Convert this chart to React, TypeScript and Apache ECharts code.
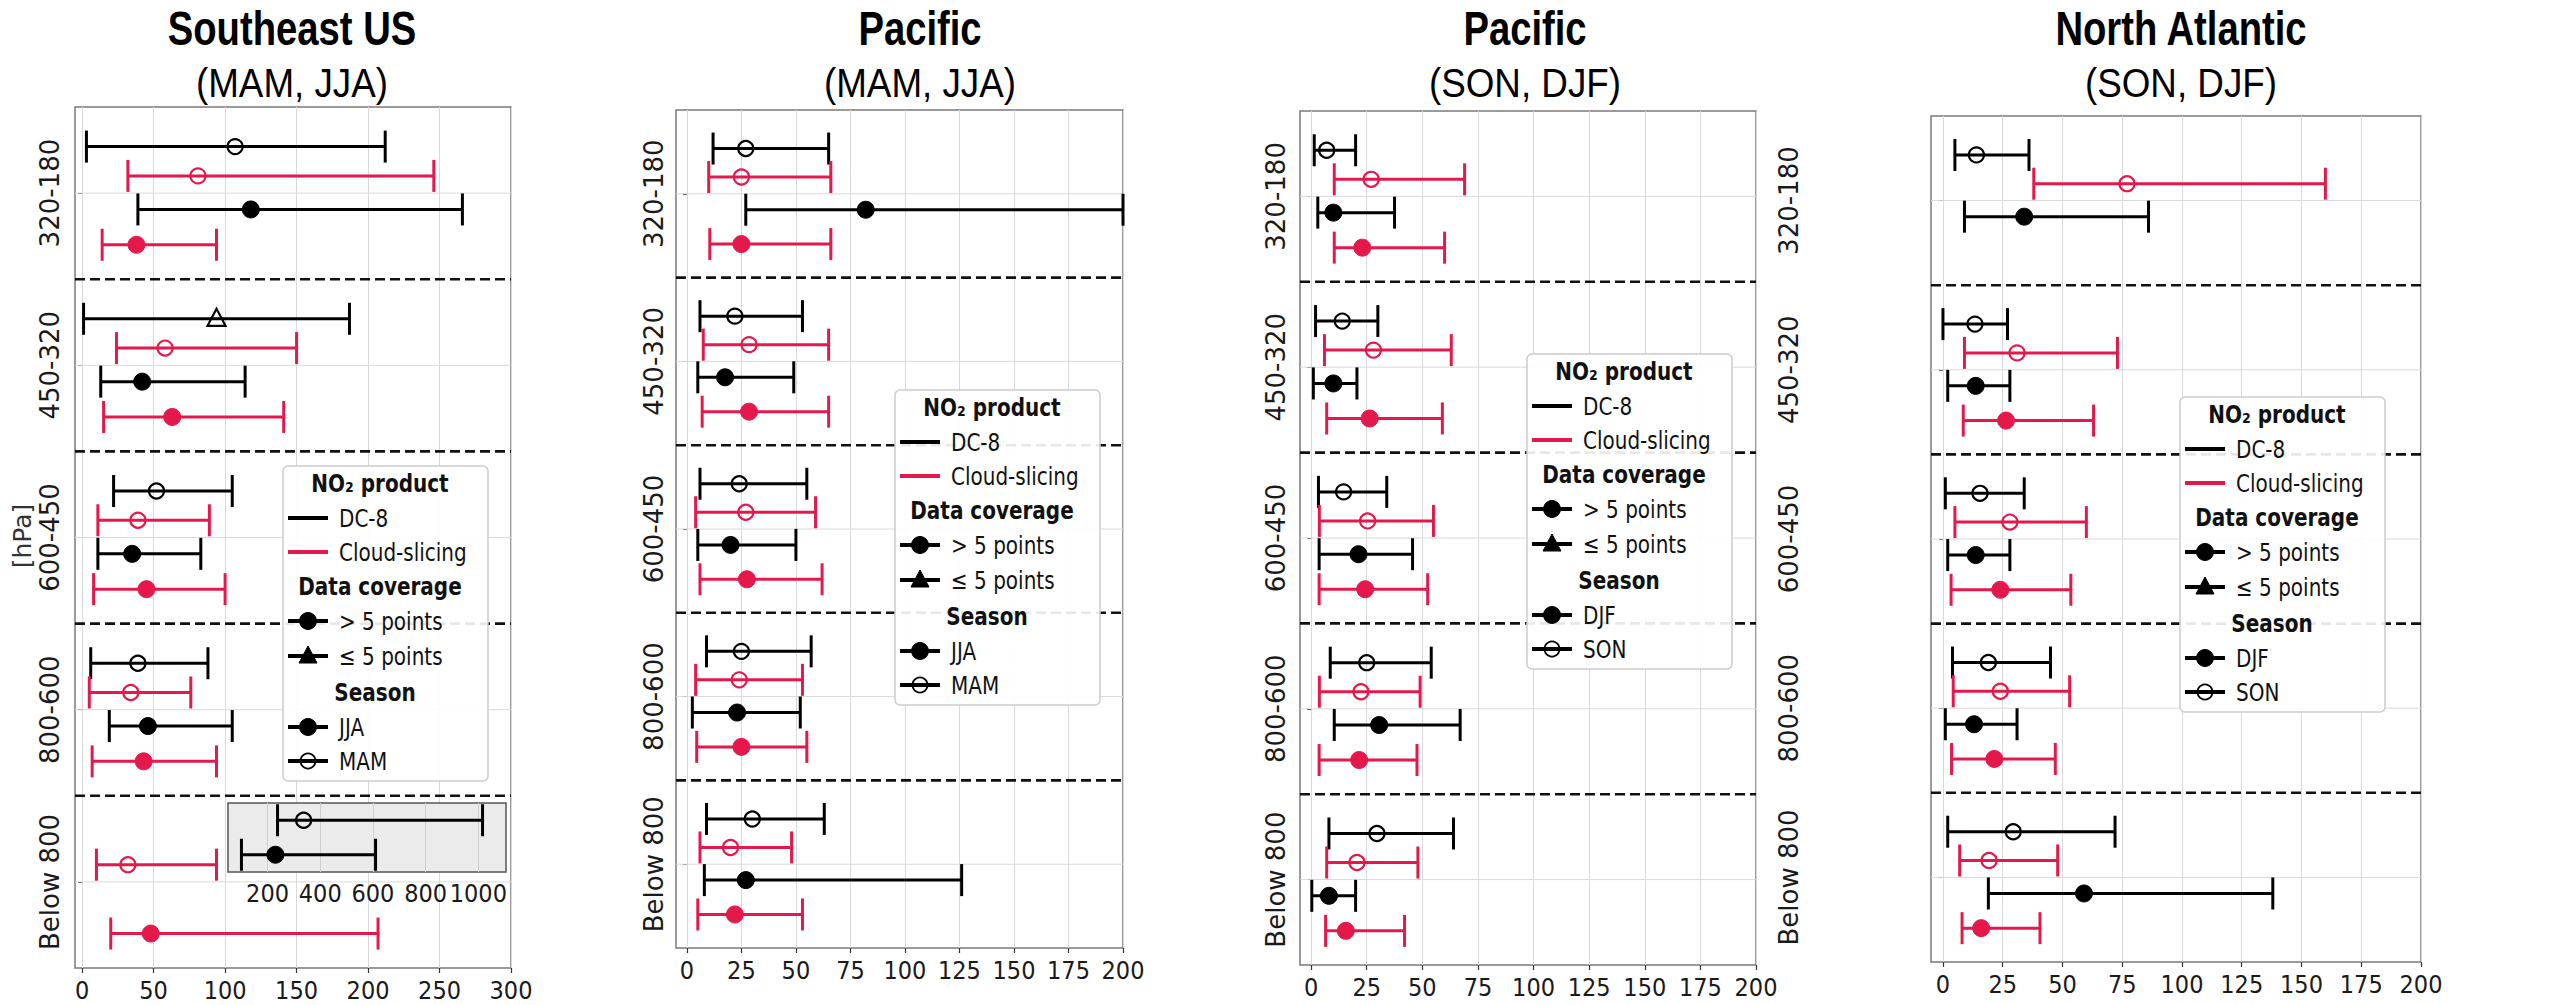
import React, { useEffect, useRef } from "react";
import * as echarts from "echarts";

// ---------------- data ----------------
const levels = ["320-180", "450-320", "600-450", "800-600", "Below 800"];
const xTicks300 = [0, 50, 100, 150, 200, 250, 300];
const xTicks200 = [0, 25, 50, 75, 100, 125, 150, 175, 200];
const insetTicks = [200, 400, 600, 800, 1000];
const insetLevels = ["MAM", "JJA"];

type R = [number, number, number] | null; // [low, mean, high]

// Southeast US (MAM, JJA)
const seDc8MAM: R[] = [[3, 107, 212], [1, 94, 187], [22, 52, 105], [6, 39, 88], null];
const seDc8MAMFew = [0, 1, 0, 0, 0]; // 1 = "<= 5 points"
const seCsMAM: R[] = [[32, 81, 246], [24, 58, 150], [11, 39, 89], [5, 34, 76], [10, 32, 94]];
const seDc8JJA: R[] = [[39, 118, 266], [13, 42, 114], [11, 35, 83], [19, 46, 105], null];
const seCsJJA: R[] = [[14, 38, 94], [15, 63, 141], [8, 45, 100], [7, 43, 94], [20, 48, 207]];
// Southeast US, Below 800, DC-8 (inset, larger scale)
const seInsetDc8MAM: R = [238, 337, 1016];
const seInsetDc8JJA: R = [101, 230, 610];

// Pacific (MAM, JJA)
const pcDc8MAM: R[] = [[12, 27, 65], [6, 22, 53], [6, 24, 55], [9, 25, 57], [9, 30, 63]];
const pcCsMAM: R[] = [[10, 25, 66], [7.5, 28.5, 65], [4, 27, 59], [4, 24, 53], [6, 20, 48]];
const pcDc8JJA: R[] = [[27, 82, 200], [5, 17.5, 49], [5, 20, 50], [2.5, 23, 52], [8, 27, 126]];
const pcCsJJA: R[] = [[10.5, 25, 66], [7, 28.5, 65], [6, 27.5, 62], [4.5, 25, 55], [5, 22, 53]];

// Pacific (SON, DJF)
const psDc8SON: R[] = [[1.4, 7, 20], [2, 14, 30], [3.3, 14.6, 34], [8.6, 25, 54], [8, 29.6, 64]];
const psCsSON: R[] = [[10.4, 27, 69], [6, 28, 63], [3.7, 25.4, 55], [3.7, 22.4, 49], [7, 20.6, 48]];
const psDc8DJF: R[] = [[3, 10, 37.5], [1, 10, 20.6], [3.6, 21.3, 45.6], [10.4, 30.6, 67], [0.3, 8, 20]];
const psCsDJF: R[] = [[10.4, 23, 60], [7, 26.3, 59], [3.6, 24.3, 52.4], [3.6, 21.6, 47.6], [6.5, 15.6, 42]];

// North Atlantic (SON, DJF)
const naDc8SON: R[] = [[5, 14, 36], [0, 13.4, 27], [1, 15.5, 34], [4, 19, 45], [2, 29.4, 72]];
const naCsSON: R[] = [[38, 77, 160], [9, 31, 73], [5, 28, 60], [4.3, 24, 53], [7, 19.3, 48]];
const naDc8DJF: R[] = [[9, 34, 86], [2, 13.7, 28], [2, 13.7, 28], [1, 13, 31], [19, 59, 138]];
const naCsDJF: R[] = [null, [8.5, 26.4, 63], [3.4, 24, 53.5], [3.6, 21.5, 47], [8, 16, 40.6]];

// ---------------- styling / layout ----------------
const RED = "#E5184C";
const BLACK = "#000000";
const ROW_OFFSETS = [-0.27, -0.1, 0.095, 0.3];
const ROW_STYLE = [
  { color: BLACK, filled: false },
  { color: RED, filled: false },
  { color: BLACK, filled: true },
  { color: RED, filled: true },
];
const TICK_FONT = '"DejaVu Sans Condensed", "DejaVu Sans", sans-serif';
const TITLE_FONT = '"Liberation Sans", Arial, Helvetica, sans-serif';

const panels = [
  {
    title: "Southeast US", sub: "(MAM, JJA)", cx: 292,
    grid: { left: 75, top: 107, width: 436, height: 861 },
    xMax: 300, ticks: xTicks300, yMargin: 12, legend: [283, 466],
    seasons: ["JJA", "MAM"], rows: [seDc8MAM, seCsMAM, seDc8JJA, seCsJJA], few: seDc8MAMFew,
  },
  {
    title: "Pacific", sub: "(MAM, JJA)", cx: 920,
    grid: { left: 676, top: 110, width: 447, height: 838 },
    xMax: 200, ticks: xTicks200, yMargin: 9, legend: [895, 390],
    seasons: ["JJA", "MAM"], rows: [pcDc8MAM, pcCsMAM, pcDc8JJA, pcCsJJA], few: null,
  },
  {
    title: "Pacific", sub: "(SON, DJF)", cx: 1525,
    grid: { left: 1300, top: 111, width: 456, height: 854 },
    xMax: 200, ticks: xTicks200, yMargin: 11, legend: [1527, 354],
    seasons: ["DJF", "SON"], rows: [psDc8SON, psCsSON, psDc8DJF, psCsDJF], few: null,
  },
  {
    title: "North Atlantic", sub: "(SON, DJF)", cx: 2181,
    grid: { left: 1931, top: 116, width: 490, height: 846 },
    xMax: 200, ticks: xTicks200, yMargin: 129, legend: [2180, 397],
    seasons: ["DJF", "SON"], rows: [naDc8SON, naCsSON, naDc8DJF, naCsDJF], few: null,
  },
];

function markerShape(x: number, y: number, color: string, filled: boolean, few: boolean, lw = 2.2) {
  const style = filled
    ? { fill: color, stroke: color, lineWidth: 1 }
    : { fill: "none", stroke: color, lineWidth: lw };
  if (few) {
    return {
      type: "polygon",
      shape: { points: [[x, y - 10], [x - 9, y + 7], [x + 9, y + 7]] },
      style,
    };
  }
  return { type: "circle", shape: { cx: x, cy: y, r: filled ? 8.5 : 7.5 }, style };
}

function errorBarRender(color: string, filled: boolean, offset: number) {
  return (params: any, api: any) => {
    const lvl = api.value(0);
    const lo = api.coord([api.value(1), lvl]);
    const mid = api.coord([api.value(2), lvl]);
    const hi = api.coord([api.value(3), lvl]);
    const band = api.size([0, 1])[1];
    const y = mid[1] + offset * band;
    const few = api.value(4) === 1;
    const cap = 16;
    const ls = { stroke: color, lineWidth: 3 };
    return {
      type: "group",
      children: [
        { type: "line", shape: { x1: lo[0], y1: y, x2: hi[0], y2: y }, style: ls },
        { type: "line", shape: { x1: lo[0], y1: y - cap, x2: lo[0], y2: y + cap }, style: ls },
        { type: "line", shape: { x1: hi[0], y1: y - cap, x2: hi[0], y2: y + cap }, style: ls },
        markerShape(mid[0], y, color, filled, few),
      ],
    };
  };
}

function separatorRender(n: number) {
  return (params: any, api: any) => {
    const lvl = api.value(1);
    const cy = api.coord([0, lvl])[1];
    const band = api.size([0, 1])[1];
    const cs = params.coordSys;
    const children: any[] = [
      { type: "line", shape: { x1: cs.x, y1: cy, x2: cs.x + cs.width, y2: cy }, style: { stroke: "#d9d9d9", lineWidth: 1 } },
    ];
    if (lvl < n - 1) {
      children.push({
        type: "line",
        shape: { x1: cs.x, y1: cy + band / 2, x2: cs.x + cs.width, y2: cy + band / 2 },
        style: { stroke: "#111", lineWidth: 2.6, lineDash: [10, 5] },
      });
    }
    return { type: "group", children };
  };
}

function txt(t: string, x: number, y: number, opts: any = {}) {
  return {
    type: "text",
    x,
    y,
    scaleX: opts.scaleX ?? 0.8,
    rotation: opts.rotation ?? 0,
    z: opts.z ?? 110,
    style: {
      text: t,
      x: 0,
      y: 0,
      font: opts.font ?? '25px "DejaVu Sans", sans-serif',
      fill: opts.fill ?? "#111",
      align: opts.align ?? "left",
      textAlign: opts.align ?? "left",
      verticalAlign: "middle",
      textVerticalAlign: "middle",
    },
  };
}

function legendGraphic(x: number, y: number, seasons: string[]) {
  const W = 205, H = 315, lx1 = 5, lx2 = 45, mx = 25, tx = 56, hx = 97;
  const ry = [17, 52, 86, 120, 155, 190, 226, 261, 295];
  const bold = 'bold 25px "DejaVu Sans", sans-serif';
  const line = (yy: number, c: string) => ({ type: "line", shape: { x1: lx1, y1: yy, x2: lx2, y2: yy }, style: { stroke: c, lineWidth: 4 } });
  return {
    type: "group",
    x,
    y,
    z: 100,
    children: [
      { type: "rect", shape: { x: 0, y: 0, width: W, height: H, r: 5 }, style: { fill: "rgba(255,255,255,0.9)", stroke: "#cccccc", lineWidth: 1.5 } },
      txt("NO₂ product", hx, ry[0], { font: bold, align: "center" }),
      line(ry[1], BLACK),
      txt("DC-8", tx, ry[1]),
      line(ry[2], RED),
      txt("Cloud-slicing", tx, ry[2]),
      txt("Data coverage", hx, ry[3], { font: bold, align: "center" }),
      line(ry[4], BLACK),
      markerShape(mx, ry[4], BLACK, true, false),
      txt("> 5 points", tx, ry[4]),
      line(ry[5], BLACK),
      markerShape(mx, ry[5], BLACK, true, true),
      txt("≤ 5 points", tx, ry[5]),
      txt("Season", hx - 5, ry[6], { font: bold, align: "center" }),
      line(ry[7], BLACK),
      markerShape(mx, ry[7], BLACK, true, false),
      txt(seasons[0], tx, ry[7]),
      line(ry[8], BLACK),
      markerShape(mx, ry[8], BLACK, false, false, 1.8),
      txt(seasons[1], tx, ry[8]),
    ].map((c: any) => ({ ...c, z: 110 })),
  };
}

const plainNumber = (v: number) => String(v);

function buildOption() {
  const grids: any[] = [];
  const xAxes: any[] = [];
  const yAxes: any[] = [];
  const series: any[] = [];
  const graphics: any[] = [];

  panels.forEach((p, pi) => {
    grids.push({ ...p.grid, show: true, borderColor: "#7a7a7a", borderWidth: 1.5, backgroundColor: "transparent" });
    xAxes.push({
      gridIndex: pi,
      type: "value",
      min: -5,
      max: p.xMax,
      axisLine: { show: false },
      axisTick: { show: true, customValues: p.ticks, length: 5, lineStyle: { color: "#333", width: 1.2 } },
      axisLabel: { customValues: p.ticks, formatter: plainNumber, fontSize: 25, fontFamily: TICK_FONT, color: "#1a1a1a", margin: 10, hideOverlap: false },
      splitLine: { show: true, lineStyle: { color: "#d9d9d9", width: 1 } },
    });
    yAxes.push({
      gridIndex: pi,
      type: "category",
      data: levels,
      inverse: true,
      axisLine: { show: false },
      axisTick: { show: true, alignWithLabel: true, length: 4, lineStyle: { color: "#333" } },
      axisLabel: { rotate: 90, interval: 0, fontSize: 26, fontFamily: '"DejaVu Sans", sans-serif', color: "#1a1a1a", margin: p.yMargin },
      splitLine: { show: false },
    });
    series.push({
      type: "custom",
      xAxisIndex: pi,
      yAxisIndex: pi,
      silent: true,
      z: 1,
      data: levels.map((_, i) => [0, i]),
      encode: { x: 0, y: 1 },
      renderItem: separatorRender(levels.length),
    });
    p.rows.forEach((rowData, ri) => {
      const st = ROW_STYLE[ri];
      const data: any[] = [];
      rowData.forEach((v, li) => {
        if (v) data.push([li, v[0], v[1], v[2], ri === 0 && p.few ? p.few[li] : 0]);
      });
      series.push({
        type: "custom",
        xAxisIndex: pi,
        yAxisIndex: pi,
        z: 3,
        silent: true,
        data,
        encode: { x: [1, 2, 3], y: 0 },
        renderItem: errorBarRender(st.color, st.filled, ROW_OFFSETS[ri]),
      });
    });
    graphics.push(txt(p.title, p.cx, 28, { font: `bold 49px ${TITLE_FONT}`, align: "center", scaleX: 0.78, fill: "#000", z: 5 }));
    graphics.push(txt(p.sub, p.cx, 83, { font: `40px ${TITLE_FONT}`, align: "center", scaleX: 0.92, fill: "#000", z: 5 }));
    graphics.push(legendGraphic(p.legend[0], p.legend[1], p.seasons));
  });

  // inset (Southeast US, Below 800, DC-8)
  const ii = panels.length;
  grids.push({ left: 228, top: 803, width: 278, height: 69, show: true, backgroundColor: "#ebebeb", borderColor: "#555", borderWidth: 1.5, z: 4 });
  xAxes.push({
    gridIndex: ii,
    type: "value",
    min: 50,
    max: 1105,
    z: 4,
    axisLine: { show: false },
    axisTick: { show: false, customValues: insetTicks },
    axisLabel: { customValues: insetTicks, formatter: plainNumber, fontSize: 25, fontFamily: TICK_FONT, color: "#1a1a1a", margin: 9, hideOverlap: false },
    splitLine: { show: true, lineStyle: { color: "#d0d0d0", width: 1 } },
  });
  yAxes.push({ gridIndex: ii, type: "category", data: insetLevels, inverse: true, show: false, z: 4 });
  [seInsetDc8MAM, seInsetDc8JJA].forEach((v, k) => {
    if (!v) return;
    series.push({
      type: "custom",
      xAxisIndex: ii,
      yAxisIndex: ii,
      z: 6,
      silent: true,
      data: [[k, v[0], v[1], v[2], 0]],
      encode: { x: [1, 2, 3], y: 0 },
      renderItem: errorBarRender(BLACK, k === 1, 0),
    });
  });

  graphics.push(txt("[hPa]", 22, 536, { rotation: Math.PI / 2, font: '25px "DejaVu Sans", sans-serif', align: "center", scaleX: 1, fill: "#333" }));

  return {
    animation: false,
    backgroundColor: "#ffffff",
    grid: grids,
    xAxis: xAxes,
    yAxis: yAxes,
    series,
    graphic: { elements: graphics },
  };
}

export default function App() {
  const ref = useRef<HTMLDivElement>(null);
  useEffect(() => {
    if (!ref.current) return;
    const chart = echarts.init(ref.current, null, { renderer: "svg" });
    chart.setOption(buildOption() as any);
    return () => chart.dispose();
  }, []);
  return (
    <div
      ref={ref}
      style={{ position: "fixed", left: 0, top: 0, width: 2560, height: 1005, background: "#fff" }}
    />
  );
}
